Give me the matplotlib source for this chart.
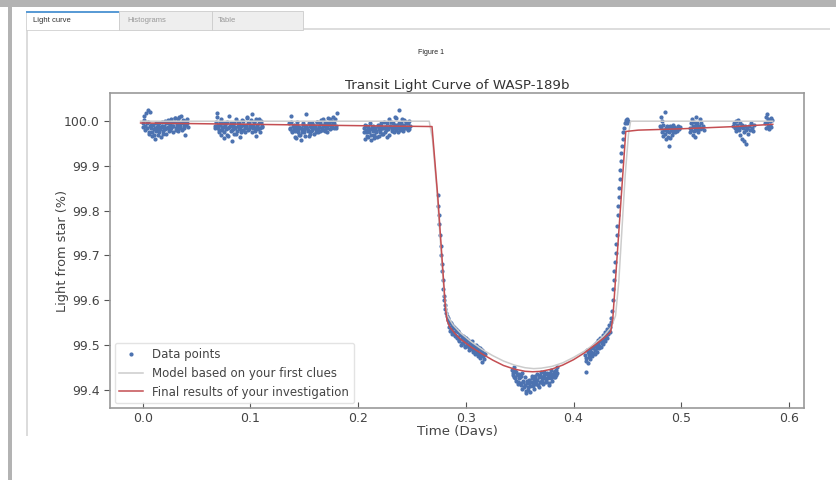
import matplotlib
matplotlib.use("Agg")
import matplotlib.pyplot as plt
from matplotlib.patches import Rectangle

# ---- data (time in days, flux in %) ----
c1_t = [0.000, 0.001, 0.002, 0.003, 0.004, 0.005, 0.006, 0.007, 0.008, 0.009, 0.010, 0.011, 0.012, 0.013, 0.014,
        0.015, 0.016, 0.017, 0.018, 0.019, 0.020, 0.021, 0.022, 0.023, 0.024, 0.025, 0.026, 0.027, 0.028, 0.029,
        0.030, 0.031, 0.032, 0.033, 0.034, 0.035, 0.036, 0.037, 0.038, 0.039, 0.040, 0.041, 0.042,
        0.0005, 0.0015, 0.0025, 0.0035, 0.0045, 0.0055, 0.0065, 0.0075, 0.0085, 0.0095, 0.0105, 0.0115, 0.0125,
        0.0135, 0.0145, 0.0155, 0.0165, 0.0175, 0.0185, 0.0195, 0.0205, 0.0215, 0.0225, 0.0235, 0.0245, 0.0255,
        0.0265, 0.0275, 0.0285, 0.0295, 0.0305, 0.0315, 0.0325, 0.0335, 0.0345, 0.0355, 0.0365, 0.0375, 0.0385,
        0.0395, 0.0405, 0.0415]
c1_f = [99.995, 100.012, 99.990, 100.018, 99.985, 99.998, 99.975, 100.020, 99.992, 99.968,
        99.982, 99.960, 99.978, 99.988, 99.970, 99.995, 99.982, 99.965, 99.990, 99.978,
        99.985, 100.000, 99.972, 99.988, 99.995, 99.980, 100.005, 99.990, 99.975, 99.998,
        100.008, 99.985, 99.992, 99.978, 100.010, 99.995, 99.982, 100.002, 99.990, 99.970,
        99.998, 100.006, 99.988,
        99.988, 100.002, 99.980, 99.996, 100.025, 99.972, 99.990, 99.985, 99.975, 99.992,
        99.970, 99.985, 99.995, 99.980, 99.990, 99.975, 99.988, 99.998, 99.972, 99.990,
        99.982, 99.995, 99.985, 100.003, 99.978, 99.992, 99.985, 99.998, 99.990, 100.008,
        99.980, 99.995, 100.004, 99.985, 99.990, 100.012, 99.980, 99.995, 99.985, 100.000,
        99.992, 99.996]

c2_t = [0.067, 0.068, 0.069, 0.070, 0.071, 0.072, 0.073, 0.074, 0.075, 0.076, 0.077, 0.078, 0.079, 0.080, 0.081,
        0.082, 0.083, 0.084, 0.085, 0.086, 0.087, 0.088, 0.089, 0.090, 0.091, 0.092, 0.093, 0.094, 0.095, 0.096,
        0.097, 0.098, 0.099, 0.100, 0.101, 0.102, 0.103, 0.104, 0.105, 0.106, 0.107, 0.108, 0.109, 0.110, 0.111,
        0.0675, 0.0685, 0.0695, 0.0705, 0.0715, 0.0725, 0.0735, 0.0745, 0.0755, 0.0765, 0.0775, 0.0785, 0.0795,
        0.0805, 0.0815, 0.0825, 0.0835, 0.0845, 0.0855, 0.0865, 0.0875, 0.0885, 0.0895, 0.0905, 0.0915, 0.0925,
        0.0935, 0.0945, 0.0955, 0.0965, 0.0975, 0.0985, 0.0995, 0.1005, 0.1015, 0.1025, 0.1035, 0.1045, 0.1055,
        0.1065, 0.1075, 0.1085, 0.1095, 0.1105]
c2_f = [99.990, 99.998, 100.010, 99.985, 99.975, 99.992, 100.005, 99.980, 99.962, 99.988,
        99.995, 99.970, 99.985, 100.012, 99.990, 99.978, 99.955, 99.982, 99.995, 99.988,
        99.972, 99.998, 99.985, 99.965, 99.990, 100.002, 99.980, 99.992, 99.975, 99.988,
        100.008, 99.995, 99.982, 99.990, 100.015, 99.985, 99.998, 99.978, 100.005, 99.990,
        99.982, 99.995, 99.975, 100.000, 99.988,
        99.985, 100.018, 99.992, 99.980, 99.998, 99.970, 99.988, 99.995, 99.975, 99.992,
        99.982, 99.998, 99.968, 99.988, 99.995, 99.980, 99.990, 99.972, 99.985, 100.005,
        99.978, 99.990, 99.995, 99.982, 99.975, 99.992, 100.000, 99.985, 99.990, 100.010,
        99.980, 99.995, 99.988, 100.002, 99.975, 99.990, 99.998, 99.985, 99.968, 99.992,
        100.006, 99.985, 99.995, 99.990]

c3_t = [0.136, 0.137, 0.138, 0.139, 0.140, 0.141, 0.142, 0.143, 0.144, 0.145, 0.146, 0.147, 0.148, 0.149, 0.150,
        0.151, 0.152, 0.153, 0.154, 0.155, 0.156, 0.157, 0.158, 0.159, 0.160, 0.161, 0.162, 0.163, 0.164, 0.165,
        0.166, 0.167, 0.168, 0.169, 0.170, 0.171, 0.172, 0.173, 0.174, 0.175, 0.176, 0.177, 0.178, 0.179, 0.180,
        0.1365, 0.1375, 0.1385, 0.1395, 0.1405, 0.1415, 0.1425, 0.1435, 0.1445, 0.1455, 0.1465, 0.1475, 0.1485,
        0.1495, 0.1505, 0.1515, 0.1525, 0.1535, 0.1545, 0.1555, 0.1565, 0.1575, 0.1585, 0.1595, 0.1605, 0.1615,
        0.1625, 0.1635, 0.1645, 0.1655, 0.1665, 0.1675, 0.1685, 0.1695, 0.1705, 0.1715, 0.1725, 0.1735, 0.1745,
        0.1755, 0.1765, 0.1775, 0.1785, 0.1795]
c3_f = [99.995, 99.985, 100.012, 99.978, 99.992, 99.965, 99.985, 99.998, 99.975, 99.988,
        99.970, 99.958, 99.982, 99.992, 99.975, 99.985, 100.015, 99.980, 99.968, 99.990,
        99.978, 99.995, 99.985, 99.972, 99.990, 99.982, 99.998, 99.975, 99.988, 99.995,
        99.980, 100.005, 99.990, 99.978, 99.995, 99.985, 100.008, 99.992, 99.982, 100.000,
        99.988, 100.010, 99.995, 99.985, 100.018,
        99.982, 99.998, 99.975, 99.990, 99.985, 99.978, 99.962, 99.992, 99.980, 99.970,
        99.985, 99.975, 99.995, 99.982, 99.968, 99.990, 99.985, 99.978, 99.995, 99.972,
        99.988, 99.980, 99.992, 99.985, 99.975, 99.998, 99.982, 99.990, 99.978, 100.002,
        99.985, 99.992, 99.980, 99.998, 99.988, 99.975, 99.995, 100.004, 99.985, 99.992,
        99.998, 99.985, 100.005, 99.990]

c4_t = [0.205, 0.206, 0.207, 0.208, 0.209, 0.210, 0.211, 0.212, 0.213, 0.214, 0.215, 0.216, 0.217, 0.218, 0.219,
        0.220, 0.221, 0.222, 0.223, 0.224, 0.225, 0.226, 0.227, 0.228, 0.229, 0.230, 0.231, 0.232, 0.233, 0.234,
        0.235, 0.236, 0.237, 0.238, 0.239, 0.240, 0.241, 0.242, 0.243, 0.244, 0.245, 0.246, 0.247, 0.248,
        0.2055, 0.2065, 0.2075, 0.2085, 0.2095, 0.2105, 0.2115, 0.2125, 0.2135, 0.2145, 0.2155, 0.2165, 0.2175,
        0.2185, 0.2195, 0.2205, 0.2215, 0.2225, 0.2235, 0.2245, 0.2255, 0.2265, 0.2275, 0.2285, 0.2295, 0.2305,
        0.2315, 0.2325, 0.2335, 0.2345, 0.2355, 0.2365, 0.2375, 0.2385, 0.2395, 0.2405, 0.2415, 0.2425, 0.2435,
        0.2445, 0.2455, 0.2465, 0.2475]
c4_f = [99.985, 99.960, 99.975, 99.990, 99.965, 99.982, 99.995, 99.970, 99.988, 99.978,
        99.962, 99.985, 99.975, 99.992, 99.968, 99.980, 99.990, 99.972, 99.985, 99.998,
        99.975, 99.988, 99.965, 99.982, 100.005, 99.990, 99.978, 99.995, 99.985, 100.010,
        99.980, 99.992, 99.975, 100.025, 99.988, 99.995, 99.982, 99.990, 100.002, 99.985,
        99.995, 99.980, 100.000, 99.990,
        99.975, 99.992, 99.980, 99.968, 99.988, 99.975, 99.958, 99.982, 99.990, 99.970,
        99.985, 99.978, 99.965, 99.990, 99.982, 99.975, 99.995, 99.985, 99.972, 99.988,
        99.980, 99.995, 99.985, 99.970, 99.990, 99.998, 99.982, 99.988, 99.975, 99.992,
        100.008, 99.985, 99.995, 99.980, 99.990, 100.004, 99.978, 99.992, 99.985, 99.998,
        99.988, 99.995, 99.982]

ingress_t = [0.2740, 0.2745, 0.2750, 0.2755, 0.2760, 0.2765, 0.2770, 0.2775, 0.2780, 0.2785, 0.2790,
             0.2795, 0.2800, 0.2805, 0.2810]
ingress_f = [99.835, 99.810, 99.790, 99.770, 99.745, 99.720, 99.700, 99.680, 99.665, 99.645, 99.625,
             99.610, 99.600, 99.590, 99.580]

left_t = [0.282, 0.283, 0.284, 0.285, 0.286, 0.287, 0.288, 0.289, 0.290, 0.291, 0.292, 0.293, 0.294, 0.295,
          0.296, 0.297, 0.298, 0.299, 0.300, 0.301, 0.302, 0.303, 0.304, 0.305, 0.306, 0.307, 0.308, 0.309,
          0.310, 0.311, 0.312, 0.313, 0.314, 0.315, 0.316, 0.317,
          0.2825, 0.2835, 0.2845, 0.2855, 0.2865, 0.2875, 0.2885, 0.2895, 0.2905, 0.2915, 0.2925, 0.2935,
          0.2945, 0.2955, 0.2965, 0.2975, 0.2985, 0.2995, 0.3005, 0.3015, 0.3025, 0.3035, 0.3045, 0.3055,
          0.3065, 0.3075, 0.3085, 0.3095, 0.3105, 0.3115, 0.3125, 0.3135, 0.3145, 0.3155, 0.3165, 0.3175,
          0.3148]
left_f = [99.572, 99.560, 99.548, 99.552, 99.535, 99.545, 99.528, 99.540, 99.522, 99.535, 99.518, 99.530,
          99.512, 99.525, 99.505, 99.520, 99.510, 99.498, 99.515, 99.502, 99.512, 99.495, 99.505, 99.490,
          99.508, 99.495, 99.488, 99.500, 99.485, 99.495, 99.480, 99.492, 99.478, 99.488, 99.475, 99.482,
          99.565, 99.555, 99.540, 99.532, 99.548, 99.525, 99.538, 99.520, 99.530, 99.515, 99.528, 99.508,
          99.522, 99.500, 99.515, 99.505, 99.518, 99.495, 99.508, 99.498, 99.488, 99.505, 99.492, 99.500,
          99.485, 99.498, 99.480, 99.492, 99.485, 99.475, 99.490, 99.470, 99.485, 99.478, 99.468, 99.480,
          99.462]

bottom_t = [0.343, 0.344, 0.345, 0.346, 0.347, 0.348, 0.349, 0.350, 0.351, 0.352, 0.353, 0.354, 0.355, 0.356,
            0.357, 0.358, 0.359, 0.360, 0.361, 0.362, 0.363, 0.364, 0.365, 0.366, 0.367, 0.368, 0.369, 0.370,
            0.371, 0.372, 0.373, 0.374, 0.375, 0.376, 0.377, 0.378, 0.379, 0.380, 0.381, 0.382, 0.383, 0.384,
            0.385,
            0.3435, 0.3445, 0.3455, 0.3465, 0.3475, 0.3485, 0.3495, 0.3505, 0.3515, 0.3525, 0.3535, 0.3545,
            0.3555, 0.3565, 0.3575, 0.3585, 0.3595, 0.3605, 0.3615, 0.3625, 0.3635, 0.3645, 0.3655, 0.3665,
            0.3675, 0.3685, 0.3695, 0.3705, 0.3715, 0.3725, 0.3735, 0.3745, 0.3755, 0.3765, 0.3775, 0.3785,
            0.3795, 0.3805, 0.3815, 0.3825, 0.3835, 0.3845]
bottom_f = [99.445, 99.432, 99.450, 99.425, 99.440, 99.418, 99.435, 99.428, 99.410, 99.438, 99.420, 99.405,
            99.428, 99.392, 99.415, 99.400, 99.422, 99.408, 99.430, 99.412, 99.402, 99.425, 99.415, 99.435,
            99.410, 99.428, 99.418, 99.440, 99.422, 99.412, 99.432, 99.420, 99.438, 99.425, 99.410, 99.430,
            99.445, 99.420, 99.435, 99.428, 99.442, 99.432, 99.450,
            99.438, 99.428, 99.442, 99.420, 99.432, 99.412, 99.425, 99.415, 99.430, 99.402,
            99.418, 99.410, 99.398, 99.420, 99.405, 99.415, 99.395, 99.418, 99.425, 99.408,
            99.420, 99.430, 99.412, 99.422, 99.405, 99.432, 99.418, 99.428, 99.415, 99.440,
            99.425, 99.418, 99.435, 99.428, 99.415, 99.438, 99.425, 99.432, 99.440, 99.428,
            99.445, 99.438]

right_t = [0.411, 0.412, 0.413, 0.414, 0.415, 0.416, 0.417, 0.418, 0.419, 0.420, 0.421, 0.422, 0.423, 0.424,
           0.425, 0.426, 0.427, 0.428, 0.429, 0.430, 0.431, 0.432, 0.433, 0.434, 0.435,
           0.4115, 0.4125, 0.4135, 0.4145, 0.4155, 0.4165, 0.4175, 0.4185, 0.4195, 0.4205, 0.4215, 0.4225,
           0.4235, 0.4245, 0.4255, 0.4265, 0.4275, 0.4285, 0.4295, 0.4305, 0.4315, 0.4325, 0.4335, 0.4345,
           0.4115]
right_f = [99.478, 99.465, 99.485, 99.472, 99.490, 99.478, 99.495, 99.482, 99.500, 99.488, 99.505, 99.492,
           99.510, 99.498, 99.515, 99.505, 99.522, 99.510, 99.528, 99.518, 99.535, 99.525, 99.545, 99.540,
           99.560,
           99.470, 99.488, 99.460, 99.480, 99.468, 99.485, 99.475, 99.492, 99.480, 99.498,
           99.485, 99.502, 99.492, 99.508, 99.495, 99.512, 99.502, 99.518, 99.508, 99.525,
           99.515, 99.532, 99.528, 99.552,
           99.440]

egress_t = [0.4360, 0.4365, 0.4370, 0.4375, 0.4380, 0.4385, 0.4390, 0.4395, 0.4400, 0.4405, 0.4410, 0.4415,
            0.4420, 0.4425, 0.4430, 0.4435, 0.4440, 0.4445, 0.4450, 0.4455, 0.4460, 0.4470, 0.4480, 0.4485,
            0.4490, 0.4495, 0.4500, 0.4505]
egress_f = [99.575, 99.600, 99.625, 99.645, 99.665, 99.685, 99.705, 99.725, 99.745, 99.765, 99.790, 99.810,
            99.830, 99.850, 99.870, 99.890, 99.910, 99.930, 99.945, 99.960, 99.975, 99.985, 99.995, 100.002,
            99.998, 100.004, 99.995, 100.000]

post_t = [0.4805, 0.4810, 0.4815, 0.4820, 0.4825, 0.4830, 0.4835, 0.4840, 0.4845, 0.4850, 0.4855, 0.4860,
          0.4865, 0.4870, 0.4875, 0.4880, 0.4885, 0.4890, 0.4895, 0.4900, 0.4905, 0.4910, 0.4915, 0.4920,
          0.4925, 0.4930, 0.4935, 0.4940, 0.4950, 0.4960, 0.4970, 0.4980, 0.4990,
          0.5080, 0.5085, 0.5090, 0.5095, 0.5100, 0.5105, 0.5110, 0.5115, 0.5120, 0.5125, 0.5130, 0.5135,
          0.5140, 0.5145, 0.5150, 0.5155, 0.5160, 0.5165, 0.5170, 0.5175, 0.5180, 0.5190, 0.5200, 0.5210,
          0.5480, 0.5490, 0.5500, 0.5505, 0.5510, 0.5520, 0.5525, 0.5530, 0.5540, 0.5545, 0.5550, 0.5555,
          0.5560, 0.5565, 0.5570, 0.5580, 0.5585, 0.5590, 0.5600, 0.5605, 0.5610, 0.5620, 0.5630, 0.5640,
          0.5650, 0.5660, 0.5670, 0.5680,
          0.5780, 0.5785, 0.5790, 0.5795, 0.5800, 0.5805, 0.5810, 0.5815, 0.5820, 0.5825, 0.5830, 0.5835,
          0.5840]
post_f = [99.990, 100.010, 99.985, 99.975, 100.000, 99.968, 99.992, 99.980, 100.020, 99.972, 99.985, 99.960,
          99.990, 99.978, 99.965, 99.985, 99.945, 99.975, 99.990, 99.962, 99.980, 99.970, 99.985, 99.975,
          99.992, 99.980, 99.988, 99.975, 99.985, 99.978, 99.990, 99.982, 99.988,
          99.985, 99.975, 99.995, 99.980, 100.005, 99.970, 99.990, 99.978, 99.998, 99.985, 99.965, 99.992,
          100.010, 99.980, 99.995, 99.985, 99.975, 99.990, 100.005, 99.982, 99.995, 99.985, 99.990, 99.980,
          99.990, 99.995, 99.985, 100.000, 99.978, 99.992, 99.985, 100.002, 99.980, 99.995, 99.970, 99.988,
          99.960, 99.992, 99.985, 99.955, 99.975, 99.990, 99.980, 99.950, 99.985, 99.972, 99.990, 99.980,
          99.995, 99.985, 99.978, 99.992,
          99.995, 100.010, 99.985, 99.998, 100.015, 99.990, 100.005, 99.982, 100.000, 99.992, 100.008, 99.988,
          100.002]

# first-clues model (grey) and final fit (red)
model_t = [-0.002, 0.266, 0.269, 0.273, 0.277, 0.280, 0.283, 0.288, 0.295, 0.305, 0.315, 0.325, 0.335,
           0.345, 0.355, 0.363, 0.370, 0.380, 0.390, 0.400, 0.410, 0.420, 0.428, 0.435, 0.439, 0.442,
           0.445, 0.448, 0.451, 0.453, 0.585]
model_f = [100.000, 100.000, 99.960, 99.850, 99.710, 99.610, 99.565, 99.545, 99.527, 99.507, 99.490, 99.476,
           99.464, 99.455, 99.449, 99.447, 99.448, 99.452, 99.460, 99.472, 99.486, 99.503, 99.520, 99.540,
           99.565, 99.640, 99.760, 99.880, 99.970, 100.000, 100.000]

final_t = [-0.002, 0.100, 0.200, 0.2686, 0.274, 0.278, 0.281, 0.2825, 0.285, 0.290, 0.295, 0.305, 0.315,
           0.325, 0.335, 0.345, 0.355, 0.362, 0.370, 0.380, 0.390, 0.400, 0.410, 0.420, 0.428, 0.4345,
           0.4365, 0.4485, 0.460, 0.500, 0.550, 0.585]
final_f = [99.996, 99.993, 99.990, 99.988, 99.830, 99.690, 99.585, 99.555, 99.540, 99.525, 99.513, 99.495,
           99.480, 99.466, 99.454, 99.446, 99.441, 99.440, 99.441, 99.446, 99.455, 99.467, 99.482, 99.500,
           99.515, 99.529, 99.560, 99.977, 99.980, 99.983, 99.988, 99.993]

W, H = 837, 480
plt.rcParams['font.family'] = 'DejaVu Sans'
fig = plt.figure(figsize=(W / 100, H / 100), dpi=100)
fig.patch.set_facecolor('white')


def box(x, y, w, h, **kw):
    # rectangle in screenshot pixels (origin top-left)
    fig.patches.append(Rectangle((x / W, 1 - (y + h) / H), w / W, h / H,
                                 transform=fig.transFigure, figure=fig, **kw))


ax = fig.add_axes([110 / W, 1 - 408 / H, 694 / W, 315 / H])

all_t = c1_t + c2_t + c3_t + c4_t + ingress_t + left_t + bottom_t + right_t + egress_t + post_t
all_f = c1_f + c2_f + c3_f + c4_f + ingress_f + left_f + bottom_f + right_f + egress_f + post_f

ax.plot(all_t, all_f, '.', color='#4c72b0', ms=4, label='Data points')
ax.plot(model_t, model_f, color='#cccccc', lw=1.1, label='Model based on your first clues')
ax.plot(final_t, final_f, color='#c44e52', lw=1.1, label='Final results of your investigation')

ax.set_xlim(-0.0304, 0.614)
ax.set_ylim(99.359, 100.063)
ax.set_xticks([0.0, 0.1, 0.2, 0.3, 0.4, 0.5, 0.6])
ax.set_yticks([99.4, 99.5, 99.6, 99.7, 99.8, 99.9, 100.0])
ax.tick_params(axis='x', direction='in', length=4, labelsize=9, colors='#555555', labelcolor='#444444', pad=3)
ax.tick_params(axis='y', direction='out', length=4, labelsize=9, colors='#555555', labelcolor='#444444')
for s in ax.spines.values():
    s.set_color('#999999')
    s.set_linewidth(1.2)

ax.set_title('Transit Light Curve of WASP-189b', fontsize=9.6, color='#333333', pad=3)
ax.set_xlabel('Time (Days)', fontsize=9.6, color='#444444', labelpad=0)
ax.set_ylabel('Light from star (%)', fontsize=9.3, color='#444444', labelpad=-4)
leg = ax.legend(loc='lower left', fontsize=8.5, frameon=True, borderaxespad=0.4, handlelength=2)
leg.get_frame().set_edgecolor('#dddddd')
for txt in leg.get_texts():
    txt.set_color('#444444')

# screenshot frame around the figure
box(0, 0, W, 7, color='#b3b3b3', lw=0, zorder=20)
box(8, 7, 4, H - 7, color='#b3b3b3', lw=0, zorder=20)
box(12, 436, W - 12, H - 436, color='white', lw=0, zorder=19)
box(26, 30, 1.5, 406, color='#dcdcdc', lw=0, zorder=20)
box(303, 28, 527, 2, color='#dddddd', lw=0, zorder=20)
box(26, 11, 93, 19, facecolor='white', edgecolor='#d0d0d0', lw=0.6, zorder=20)
box(26, 11, 93, 1.5, color='#5a9bd5', lw=0, zorder=21)
box(119, 11, 93, 19, facecolor='#eeeeee', edgecolor='#cccccc', lw=0.6, zorder=20)
box(212, 11, 91, 19, facecolor='#eeeeee', edgecolor='#cccccc', lw=0.6, zorder=20)

fig.text(33 / W, 1 - 20 / H, 'Light curve', fontsize=5.5, color='#333333', va='center',
         family='Liberation Sans', zorder=22)
fig.text(127 / W, 1 - 20 / H, 'Histograms', fontsize=5.5, color='#999999', va='center',
         family='Liberation Sans', zorder=22)
fig.text(218 / W, 1 - 20 / H, 'Table', fontsize=5.5, color='#999999', va='center',
         family='Liberation Sans', zorder=22)
fig.text(431 / W, 1 - 53 / H, 'Figure 1', fontsize=5, color='#222222', ha='center', va='center',
         family='Liberation Sans', zorder=22)

fig.savefig('out.png', dpi=100)
